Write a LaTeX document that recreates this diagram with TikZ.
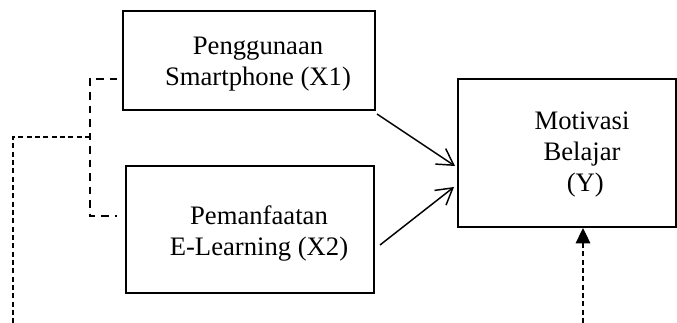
\documentclass[tikz,border=0pt]{standalone}
\usepackage{fontspec}
\setmainfont{Liberation Serif}
\usetikzlibrary{arrows.meta}

\begin{document}
\begin{tikzpicture}[x=0.75pt,y=-0.75pt,
  box/.style={draw=black,line width=1.5pt,inner sep=0pt},
  txt/.style={inner sep=0pt,align=center,font=\fontsize{20}{23.25}\selectfont},
  arr/.style={line width=1.1pt,-{Straight Barb[length=12pt,width=14pt,line width=1.1pt]}},
  brace/.style={line width=1pt,dash pattern=on 5.6pt off 4.5pt},
  fine/.style={line width=0.8pt,dash pattern=on 3.75pt off 2.5pt}]
\useasboundingbox (0,0) rectangle (677,323);
\node[box,minimum width=189pt,minimum height=74.25pt] (smart) at (249,60.5) {};
\node[txt] (smarttxt) at (258,64.5) {Penggunaan\\Smartphone (X1)};
\node[box,minimum width=186pt,minimum height=95.25pt] (elearn) at (250,229.5) {};
\node[txt] (elearntxt) at (259,233.8) {Pemanfaatan\\E-Learning (X2)};
\node[box,minimum width=163.5pt,minimum height=111pt] (motiv) at (567,153) {};
\node[txt] (motivtxt) at (582,154.7) {Motivasi\\Belajar\\~(Y)};
\draw[arr] ([shift={(1,3)}]smart.south east) -- ([shift={(-2,13)}]motiv.west);
\draw[arr] ([shift={(5,15.5)}]elearn.east) -- ([shift={(-3,34)}]motiv.west);
\coordinate (jn) at (90,137);
\coordinate (bl) at (13,323);
\coordinate (br) at (583,323);
\draw[brace] ([shift={(-5,18.5)}]smart.west) -| (jn) |- ([shift={(-8,-13.5)}]elearn.west);
\draw[fine] (jn) -| (bl);
\draw[fine,-{Triangle[length=11.5pt,width=11pt]}] (br) -- (br |- motiv.south);
\end{tikzpicture}
\end{document}
